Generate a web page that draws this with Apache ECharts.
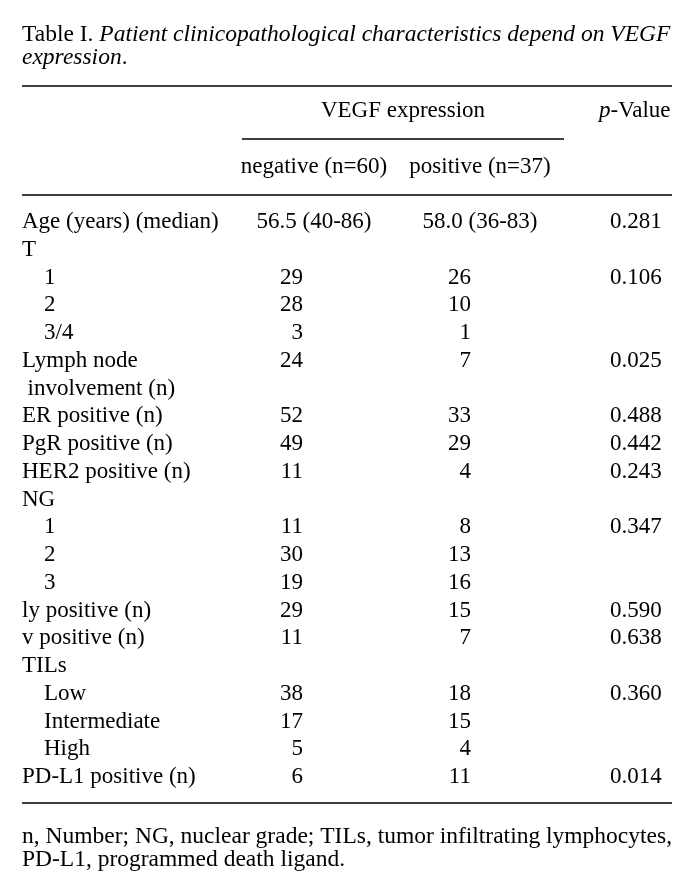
<!DOCTYPE html>
<html>
<head>
<meta charset="utf-8">
<script src="https://cdn.jsdelivr.net/npm/echarts@6/dist/echarts.min.js"></script>
<style>
html,body{margin:0;padding:0;background:#fff;}
#chart{width:694px;height:894px;}
</style>
</head>
<body>
<div id="chart"></div>
<script>
// ---- data ----
var titleNormal = 'Table I. ';
var titleItalic1 = 'Patient clinicopathological characteristics depend on VEGF';
var titleItalic2 = 'expression';
var groupHeader = 'VEGF expression';
var colHeaders = ['negative (n=60)', 'positive (n=37)'];
var pHeader = ['p', '-Value'];
var rowLabels = ['Age (years) (median)', 'T', '1', '2', '3/4', 'Lymph node', 'involvement (n)',
  'ER positive (n)', 'PgR positive (n)', 'HER2 positive (n)', 'NG', '1', '2', '3',
  'ly positive (n)', 'v positive (n)', 'TILs', 'Low', 'Intermediate', 'High', 'PD-L1 positive (n)'];
var rowLevel = [0, 0, 1, 1, 1, 0, 0.25, 0, 0, 0, 0, 1, 1, 1, 0, 0, 0, 1, 1, 1, 0];
var negValues = ['56.5 (40-86)', '', '29', '28', '3', '24', '', '52', '49', '11', '', '11', '30', '19', '29', '11', '', '38', '17', '5', '6'];
var posValues = ['58.0 (36-83)', '', '26', '10', '1', '7', '', '33', '29', '4', '', '8', '13', '16', '15', '7', '', '18', '15', '4', '11'];
var pValues = ['0.281', '', '0.106', '', '', '0.025', '', '0.488', '0.442', '0.243', '', '0.347', '', '', '0.590', '0.638', '', '0.360', '', '', '0.014'];
var footnote = ['n, Number; NG, nuclear grade; TILs, tumor infiltrating lymphocytes,', 'PD-L1, programmed death ligand.'];

// ---- layout ----
var FONT = '"Liberation Serif", "Times New Roman", serif';
var INK = '#000';
var BODY = 23;
var L = {
  left: 22, right: 672, indent: 22,
  negCenter: 314, negRight: 303,
  posCenter: 480, posRight: 471,
  pLeft: 610, groupCenter: 403, pHeadLeft: 599,
  rowStep: 27.75, firstRow: 111
};
var headerKeys = ['h1', 'r1', 'h2', 'r2'];
var yCats = headerKeys.concat(rowLabels.map(function (d, i) { return 'b' + i; }));
var gridTop = L.firstRow - L.rowStep / 2;
var gridH = L.rowStep * yCats.length;

function textItem(x, y, text, pos, extra) {
  var it = { value: [x, y], label: { show: true, formatter: text, position: pos, distance: 0 } };
  if (extra) for (var k in extra) it.label[k] = extra[k];
  return it;
}
var items = [];
rowLabels.forEach(function (t, i) {
  items.push(textItem(L.left + rowLevel[i] * L.indent, 'b' + i, t, 'right'));
});
function addCol(vals, center, right) {
  vals.forEach(function (v, i) {
    if (!v) return;
    if (v.indexOf('(') >= 0) items.push(textItem(center, 'b' + i, v, 'inside'));
    else items.push(textItem(right, 'b' + i, v, 'left'));
  });
}
addCol(negValues, L.negCenter, L.negRight);
addCol(posValues, L.posCenter, L.posRight);
pValues.forEach(function (v, i) { if (v) items.push(textItem(L.pLeft, 'b' + i, v, 'right')); });
items.push(textItem(L.groupCenter, 'h1', groupHeader, 'inside'));
items.push(textItem(L.pHeadLeft, 'h1', '{i|' + pHeader[0] + '}{n|' + pHeader[1] + '}', 'right',
  { rich: {
      i: { fontStyle: 'italic', fontSize: BODY, fontFamily: FONT, color: INK },
      n: { fontSize: BODY, fontFamily: FONT, color: INK }
  } }));
items.push(textItem(L.negCenter, 'h2', colHeaders[0], 'inside'));
items.push(textItem(L.posCenter, 'h2', colHeaders[1], 'inside'));

var chart = echarts.init(document.getElementById('chart'), null, { renderer: 'canvas' });
var ruleStyle = { stroke: INK, lineWidth: 1.5 };
var TS = 23.5;
chart.setOption({
  backgroundColor: '#fff',
  animation: false,
  title: [{
    left: L.left, top: 23, padding: 0,
    text: '{n|' + titleNormal + '}{i|' + titleItalic1 + '}\n{i|' + titleItalic2 + '}{n|.}',
    textStyle: {
      fontWeight: 'normal',
      rich: {
        n: { fontFamily: FONT, fontSize: TS, fontWeight: 'normal', color: INK, lineHeight: 23 },
        i: { fontFamily: FONT, fontSize: TS, fontWeight: 'normal', fontStyle: 'italic', color: INK, lineHeight: 23 }
      }
    }
  }, {
    left: L.left, top: 825, padding: 0,
    text: footnote.join('\n'),
    textStyle: { fontFamily: FONT, fontSize: TS, fontWeight: 'normal', color: INK, lineHeight: 23 }
  }],
  grid: { left: 0, right: 0, top: gridTop, height: gridH },
  xAxis: { type: 'value', min: 0, max: 694, show: false },
  yAxis: { type: 'category', data: yCats, inverse: true, show: false },
  series: [{
    type: 'scatter', symbolSize: 0, silent: true,
    itemStyle: { opacity: 1 },
    label: { show: true, fontFamily: FONT, fontSize: BODY, color: INK },
    data: items,
    markLine: {
      silent: true, symbol: 'none', label: { show: false },
      lineStyle: { color: INK, width: 1.5, type: 'solid', opacity: 1 },
      data: [
        [{ coord: [242, 'r1'] }, { coord: [564, 'r1'] }],
        [{ coord: [L.left, 'r2'] }, { coord: [L.right, 'r2'] }]
      ]
    }
  }],
  graphic: [
    { type: 'line', shape: { x1: L.left, y1: 86, x2: L.right, y2: 86 }, style: ruleStyle },
    { type: 'line', shape: { x1: L.left, y1: 803, x2: L.right, y2: 803 }, style: ruleStyle }
  ]
});
</script>
</body>
</html>
